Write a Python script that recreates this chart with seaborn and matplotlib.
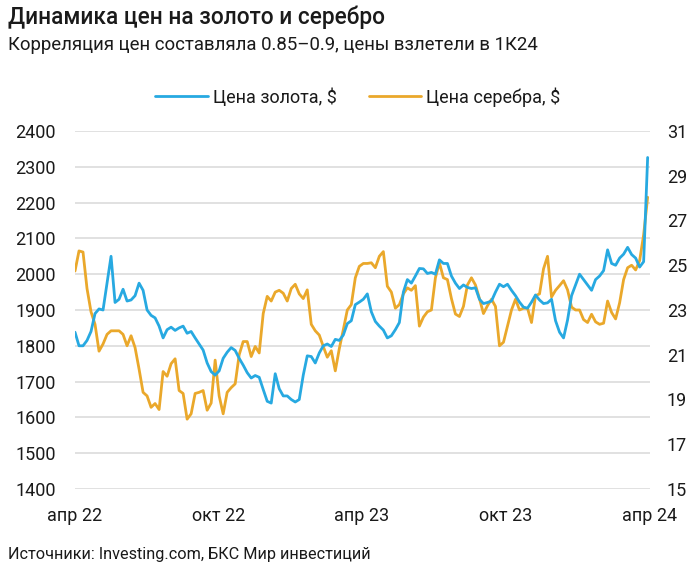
import numpy as np
import pandas as pd
import matplotlib
matplotlib.use("Agg")
import matplotlib.pyplot as plt
import seaborn as sns

# ---------------- data ----------------
start_date = "2022-04-01"
end_date = "2024-03-30"

gold = [
    1838, 1800, 1800, 1815, 1840, 1890, 1903, 1900, 1975, 2050,
    1921, 1930, 1958, 1925, 1928, 1940, 1975, 1955, 1900, 1885,
    1878, 1855, 1822, 1845, 1852, 1843, 1850, 1855, 1835, 1840,
    1822, 1805, 1788, 1752, 1728, 1718, 1730, 1765, 1782, 1795,
    1787, 1765, 1746, 1725, 1710, 1717, 1712, 1678, 1645, 1640,
    1722, 1680, 1660, 1660, 1650, 1643, 1650, 1718, 1772, 1770,
    1752, 1780, 1800, 1805, 1798, 1818, 1815, 1830, 1862, 1870,
    1915, 1922, 1930, 1945, 1895, 1868, 1855, 1844, 1822, 1828,
    1845, 1865, 1950, 1985, 1975, 1995, 2016, 2015, 2002, 2005,
    2000, 2040, 2030, 2030, 1995, 1975, 1960, 1970, 1963, 1960,
    1962, 1930, 1918, 1921, 1925, 1950, 1972, 1965, 1972, 1955,
    1940, 1922, 1908, 1905, 1922, 1942, 1928, 1918, 1920, 1930,
    1870, 1838, 1822, 1872, 1940, 1970, 2000, 1985, 1970, 1955,
    1985, 1995, 2010, 2068, 2030, 2025, 2045, 2056, 2075, 2055,
    2045, 2020, 2035, 2326,
]

silver = [
    24.74, 25.64, 25.59, 23.96, 22.92, 22.36, 21.16, 21.48, 21.91, 22.07,
    22.07, 22.07, 21.91, 21.40, 21.85, 21.32, 20.36, 19.32, 19.16, 18.65,
    18.82, 18.55, 20.25, 20.04, 20.60, 20.82, 19.40, 19.27, 18.12, 18.36,
    19.27, 19.32, 19.40, 18.52, 18.84, 20.76, 19.16, 18.36, 19.32, 19.53,
    19.70, 21.00, 21.59, 21.59, 20.92, 21.37, 21.08, 22.84, 23.61, 23.40,
    23.80, 23.88, 23.75, 23.40, 23.96, 24.15, 23.72, 23.51, 23.90, 22.36,
    22.07, 21.88, 21.37, 20.89, 21.18, 20.28, 21.27, 22.12, 23.00, 23.24,
    24.44, 24.95, 25.08, 25.08, 25.11, 24.89, 25.40, 25.61, 24.06, 23.80,
    23.08, 23.24, 23.72, 23.99, 23.88, 24.09, 22.28, 22.68, 22.92, 23.00,
    24.44, 25.11, 24.44, 24.36, 23.51, 22.82, 22.71, 23.16, 24.12, 24.44,
    24.12, 23.51, 22.84, 23.19, 23.48, 23.16, 21.40, 21.56, 22.28, 23.00,
    23.48, 23.00, 23.08, 23.08, 22.44, 23.64, 23.72, 24.84, 25.40, 23.58,
    23.88, 24.09, 24.31, 23.90, 23.13, 23.00, 23.00, 22.57, 22.44, 22.81,
    22.47, 22.36, 22.41, 23.40, 22.89, 22.60, 23.32, 24.36, 24.89, 25.00,
    24.79, 25.21, 26.36, 28.04,
]

gold_label = "Цена золота, $"
silver_label = "Цена серебра, $"
title = "Динамика цен на золото и серебро"
subtitle = "Корреляция цен составляла 0.85–0.9, цены взлетели в 1К24"
source = "Источники: Investing.com, БКС Мир инвестиций"

left_ticks = [1400, 1500, 1600, 1700, 1800, 1900, 2000, 2100, 2200, 2300, 2400]
right_ticks = [15, 17, 19, 21, 23, 25, 27, 29, 31]
x_tick_dates = ["2022-04-01", "2022-10-01", "2023-04-01", "2023-10-01", "2024-04-01"]
x_tick_labels = ["апр 22", "окт 22", "апр 23", "окт 23", "апр 24"]

dates = pd.date_range(start_date, end_date, periods=len(gold))
df = pd.DataFrame({"date": dates, "gold": gold, "silver": silver})

# ---------------- style ----------------
sns.set_theme(style="white")
plt.rcParams["font.family"] = ["Roboto", "DejaVu Sans"]

BLUE = "#27a9e1"
ORANGE = "#eaa82b"
GRID = "#dcdcdc"
TEXT = "#1a1a1a"

fig = plt.figure(figsize=(7.0, 5.7), dpi=100)
ax = fig.add_axes([75 / 700, 1 - 489 / 570, (650 - 75) / 700, (489 - 131) / 570])
ax2 = ax.twinx()

sns.lineplot(data=df, x="date", y="gold", ax=ax, color=BLUE, linewidth=2.0,
             label=gold_label, legend=False)
sns.lineplot(data=df, x="date", y="silver", ax=ax2, color=ORANGE, linewidth=2.0,
             label=silver_label, legend=False)
ax.set_zorder(2)
ax.patch.set_visible(False)
ax2.set_zorder(1)

ax.set_ylim(1400, 2400)
ax2.set_ylim(15, 31)
ax.set_yticks(left_ticks)
ax2.set_yticks(right_ticks)
ax.set_xlim(pd.Timestamp(start_date), pd.Timestamp("2024-04-02"))

ax.set_xticks(pd.to_datetime(x_tick_dates))
ax.set_xticklabels(x_tick_labels)

for a in (ax, ax2):
    for s in a.spines.values():
        s.set_visible(False)
    a.set_xlabel("")
    a.set_ylabel("")
    a.tick_params(length=0, labelsize=13, labelcolor=TEXT)

ax.tick_params(axis="y", pad=14)
ax2.tick_params(axis="y", pad=12)
ax.tick_params(axis="x", pad=13)

ax.grid(False)
ax2.grid(False)
for v in left_ticks:
    ax2.axhline(15 + (v - 1400) * 16 / 1000, color=GRID, linewidth=1.2, zorder=0)

fig.text(8 / 700, 1 - 17 / 570, title, fontsize=16.3, fontweight="medium",
         color=TEXT, va="center", ha="left")
fig.text(8 / 700, 1 - 45 / 570, subtitle, fontsize=13.4, color=TEXT,
         va="center", ha="left")
fig.text(8 / 700, 1 - 555 / 570, source, fontsize=11.7, color=TEXT,
         va="center", ha="left")

h1, l1 = ax.get_legend_handles_labels()
h2, l2 = ax2.get_legend_handles_labels()
fig.legend(h1 + h2, l1 + l2, loc="center", bbox_to_anchor=(358 / 700, 1 - 97 / 570),
           ncol=2, frameon=False, fontsize=13, handlelength=2.9,
           handletextpad=0.28, columnspacing=1.8, labelcolor=TEXT)

fig.savefig("out.png", dpi=100, facecolor="white")
